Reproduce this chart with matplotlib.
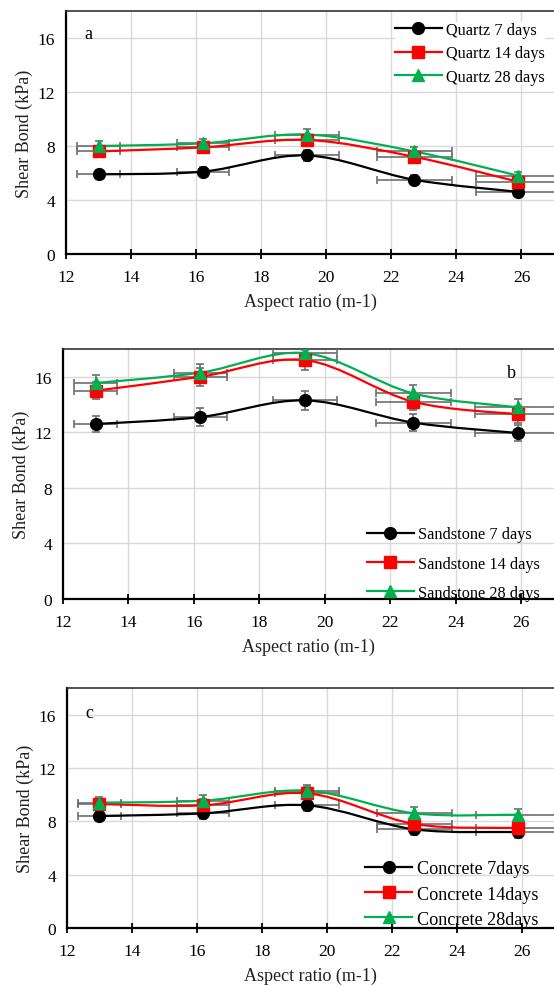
"""
Shear bond vs aspect ratio for three substrates (quartz, sandstone, concrete).
Excel-style smoothed lines with x/y error bars, three stacked panels.
"""

import matplotlib
matplotlib.use("Agg")
import matplotlib.pyplot as plt
from matplotlib.path import Path
from matplotlib.patches import PathPatch

plt.rcParams['font.family'] = ['Liberation Serif', 'DejaVu Serif']

# Data
aspect_ratio = [13.0, 16.2, 19.4, 22.7, 25.9]
xerr_ratio = [0.65, 0.8, 0.98, 1.15, 1.3]

quartz_7 = [5.9, 6.1, 7.3, 5.5, 4.6]
quartz_14 = [7.6, 7.9, 8.45, 7.2, 5.35]
quartz_28 = [8.0, 8.2, 8.85, 7.6, 5.8]
quartz_err = [0.35, 0.35, 0.4, 0.35, 0.3]

sandstone_7 = [12.6, 13.1, 14.3, 12.7, 11.95]
sandstone_14 = [15.0, 16.0, 17.2, 14.2, 13.3]
sandstone_28 = [15.55, 16.3, 17.7, 14.8, 13.8]
sandstone_err = [0.6, 0.65, 0.7, 0.6, 0.6]

concrete_7 = [8.4, 8.6, 9.2, 7.4, 7.2]
concrete_14 = [9.3, 9.2, 10.1, 7.8, 7.5]
concrete_28 = [9.4, 9.55, 10.3, 8.6, 8.5]
concrete_err = [0.4, 0.45, 0.45, 0.45, 0.45]

COLORS = ['black', '#ff0000', '#00b050']
MARKERS = ['o', 's', '^']

panels = [
    ('a', [quartz_7, quartz_14, quartz_28], quartz_err,
     ['Quartz 7 days', 'Quartz 14 days', 'Quartz 28 days']),
    ('b', [sandstone_7, sandstone_14, sandstone_28], sandstone_err,
     ['Sandstone 7 days', 'Sandstone 14 days', 'Sandstone 28 days']),
    ('c', [concrete_7, concrete_14, concrete_28], concrete_err,
     ['Concrete 7days', 'Concrete 14days', 'Concrete 28days']),
]

W, H = 554, 987
# axes boxes in pixels: left, top, bottom (right edge runs off the figure)
boxes = [(66, 12, 255), (63, 350, 600), (67, 689, 929)]
# panel letter position (data coords)
letter_pos = {'a': (12.7, 16.3), 'b': (25.7, 16.3), 'c': (12.7, 16.2)}
# legend: anchor (axes fraction, upper left), font size, row spacing, handle length, white box
legend_opts = {
    'a': ((0.674, 0.955), 11.7, 0.45, 2.9, True),
    'b': ((0.619, 0.29), 11.7, 0.82, 2.9, False),
    'c': ((0.612, 0.282), 13.1, 0.45, 2.6, False),
}


def smooth_path(xs, ys):
    """Excel-like smoothed line as cubic Bezier segments through the points."""
    pts = list(zip(xs, ys))
    n = len(pts)
    verts = [pts[0]]
    codes = [Path.MOVETO]
    for i in range(n - 1):
        p0 = pts[max(i - 1, 0)]
        p1 = pts[i]
        p2 = pts[i + 1]
        p3 = pts[min(i + 2, n - 1)]
        c1 = (p1[0] + (p2[0] - p0[0]) / 6, p1[1] + (p2[1] - p0[1]) / 6)
        c2 = (p2[0] - (p3[0] - p1[0]) / 6, p2[1] - (p3[1] - p1[1]) / 6)
        verts += [c1, c2, p2]
        codes += [Path.CURVE4] * 3
    return Path(verts, codes)


fig = plt.figure(figsize=(W / 100, H / 100), dpi=100)

for (letter, series, yerr, labels), (left, top, bottom) in zip(panels, boxes):
    ax = fig.add_axes([left / W, 1 - bottom / H, 1.0 - left / W, (bottom - top) / H])

    for ys, color, marker, label in zip(series, COLORS, MARKERS, labels):
        ax.errorbar(aspect_ratio, ys, xerr=xerr_ratio, yerr=yerr,
                    fmt='none', ecolor='#6e6e6e', elinewidth=1.2, capsize=3,
                    capthick=1.2, zorder=3)
        ax.add_patch(PathPatch(smooth_path(aspect_ratio, ys), facecolor='none',
                               edgecolor=color, lw=1.6, zorder=4))
        ax.plot(aspect_ratio, ys, linestyle='none', marker=marker, color=color,
                markersize=8.5, zorder=5)
        # legend handle
        ax.plot([], [], color=color, marker=marker, markersize=8.5, lw=1.6, label=label)

    ax.set_xlim(12, 27)
    ax.set_ylim(0, 18)
    ax.set_xticks([12, 14, 16, 18, 20, 22, 24, 26])
    ax.set_yticks([0, 4, 8, 12, 16])
    ax.grid(True, color='#d9d9d9', lw=1.0, zorder=0)
    ax.set_axisbelow(True)
    ax.tick_params(axis='x', direction='inout', length=7, width=1.3,
                   labelsize=12.5, pad=7)
    ax.tick_params(axis='y', length=0, labelsize=12.5, pad=8)
    for side in ['left', 'bottom']:
        ax.spines[side].set_linewidth(1.6)
    ax.spines['top'].set_linewidth(1.2)
    ax.spines['top'].set_color('#333333')
    ax.spines['right'].set_visible(False)

    ax.set_ylabel('Shear Bond (kPa)', fontsize=13, labelpad=3, color='#222222')
    ax.set_xlabel('Aspect ratio (m-1)', fontsize=13, labelpad=6, color='#222222')

    lx, ly = letter_pos[letter]
    ax.text(lx, ly, letter, fontsize=13, ha='center', va='center')

    anchor, fsize, spacing, hlen, boxed = legend_opts[letter]
    ax.legend(loc='upper left', bbox_to_anchor=anchor, frameon=boxed,
              edgecolor='none', framealpha=1, fontsize=fsize, handlelength=hlen,
              handletextpad=0.25, labelspacing=spacing, borderpad=0.0,
              borderaxespad=0.0)

fig.savefig('out.png', dpi=100)
